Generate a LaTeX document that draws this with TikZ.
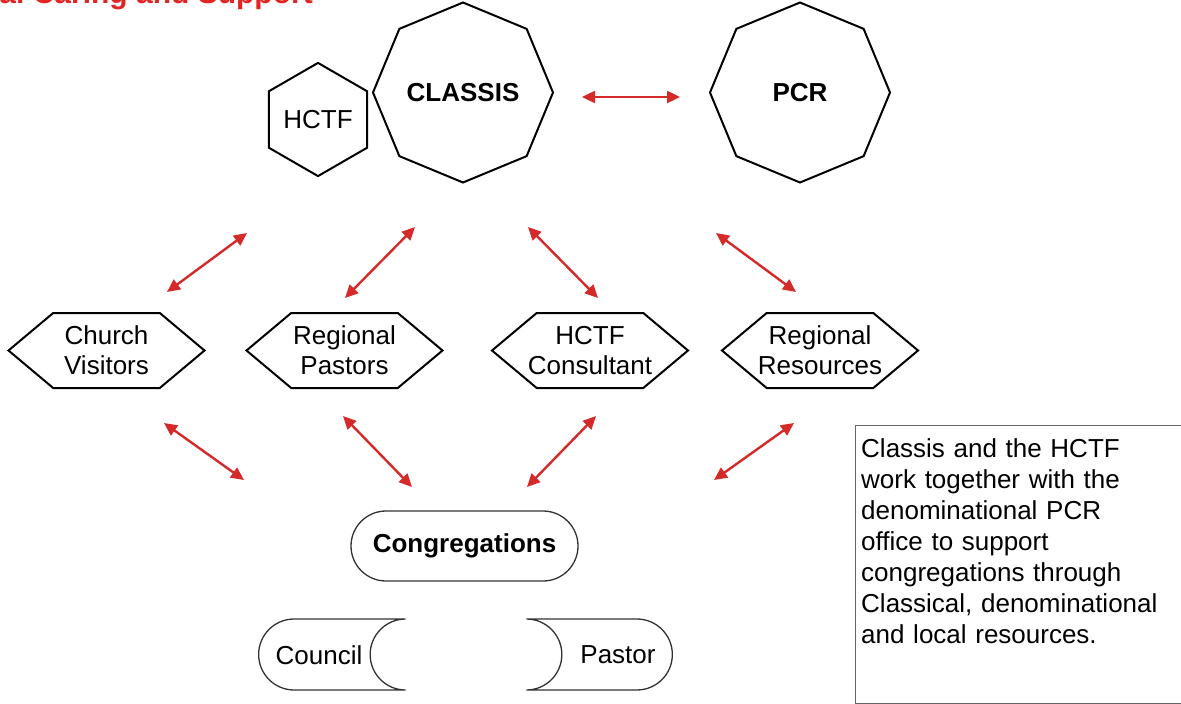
\documentclass[tikz,border=0pt]{standalone}
\usepackage{fontspec}
\setmainfont{Liberation Sans}
\usetikzlibrary{arrows.meta,shapes.geometric,shapes.symbols,shapes.misc}
\definecolor{arrowred}{RGB}{212,42,42}
\definecolor{titlered}{RGB}{226,36,36}

\begin{document}
\begin{tikzpicture}[x=1pt,y=-1pt,>={Triangle[length=13pt,width=12pt]},
    body node/.style={regular polygon,regular polygon sides=8,shape border rotate=22.5,
        draw,line width=2pt,minimum size=180pt,inner sep=0pt,
        font=\bfseries\fontsize{26}{30}\selectfont},
    hex node/.style={regular polygon,regular polygon sides=6,shape border rotate=30,
        draw,line width=2pt,minimum size=105pt,inner sep=0pt,
        font=\fontsize{26}{30}\selectfont},
    help node/.style={signal,signal to=west and east,signal pointer angle=80,
        draw,line width=2pt,minimum width=196pt,minimum height=75pt,inner sep=0pt},
    local node/.style={rounded rectangle,draw=black!80,line width=1.3pt,
        minimum height=71pt,inner sep=0pt},
    txt node/.style={inner sep=0pt,align=center,font=\fontsize{26}{30}\selectfont},
    red arrow/.style={<->,color=arrowred,line width=2.4pt}]

  \useasboundingbox (0,0) rectangle (1181,704);

  % title, cut at the top of the page
  \node[anchor=base east,inner sep=0pt,text=titlered,
    font=\bfseries\fontsize{30}{36}\selectfont] (TT) at (313,3) {Classical Caring and Support};

  % top level
  \node[hex node] (HC) at (318,119.5) {HCTF};
  \node[body node] (CL) at (463,92.5) {CLASSIS};
  \node[body node] (PCR) at (800,92.5) {PCR};

  % middle level
  \node[help node] (CV) at (106.5,350.5) {};
  \node[help node] (RP) at (344.5,350.5) {};
  \node[help node] (HCC) at (590,350.5) {};
  \node[help node] (RR) at (820,350.5) {};
  \node[txt node] (CVT) at (CV) {Church\\Visitors};
  \node[txt node] (RPT) at (RP) {Regional\\Pastors};
  \node[txt node] (HCCT) at (HCC) {HCTF\\Consultant};
  \node[txt node] (RRT) at (RR) {Regional\\Resources};

  % local level
  \node[local node,minimum width=227pt,minimum height=70pt,
    font=\bfseries\fontsize{26}{30}\selectfont] (CG) at (464.5,546) {Congregations};
  \node[local node,rounded rectangle right arc=concave,minimum width=147pt,
    anchor=west] (CO) at (258,654.5) {};
  \node[local node,rounded rectangle left arc=concave,minimum width=146pt,
    anchor=east] (PA) at (673,654.5) {};
  \node[txt node] (COT) at (319,655) {Council};
  \node[txt node] (PAT) at (618,655) {Pastor};

  % note
  \draw[draw=black!60,line width=1pt] (1190,425) -- (855,425) -- (855,703.5) -- (1190,703.5);
  \node[txt node,anchor=north west,text width=318pt,align=left,
    font=\fontsize{26}{31}\selectfont] (NT) at (861,438)
    {Classis and the HCTF\\work together with the\\denominational PCR\\office to support\\congregations through\\Classical, denominational\\and local resources.};

  % arrow ends
  \coordinate (T1) at (582,97);  \coordinate (T2) at (680,97);
  \coordinate (A1) at (247,233); \coordinate (A2) at (167,292);
  \coordinate (B1) at (415,227); \coordinate (B2) at (345,298);
  \coordinate (C1) at (528,227); \coordinate (C2) at (598,298);
  \coordinate (D1) at (716,233); \coordinate (D2) at (796,292);
  \coordinate (E1) at (164,423); \coordinate (E2) at (244,480);
  \coordinate (F1) at (343,416); \coordinate (F2) at (412,487);
  \coordinate (G1) at (596,416); \coordinate (G2) at (527,487);
  \coordinate (H1) at (794,423); \coordinate (H2) at (714,480);

  \path[red arrow]
  (T1) edge (T2)
  (A1) edge (A2)
  (B1) edge (B2)
  (C1) edge (C2)
  (D1) edge (D2)
  (E1) edge (E2)
  (F1) edge (F2)
  (G1) edge (G2)
  (H1) edge (H2)
  ;
\end{tikzpicture}
\end{document}
